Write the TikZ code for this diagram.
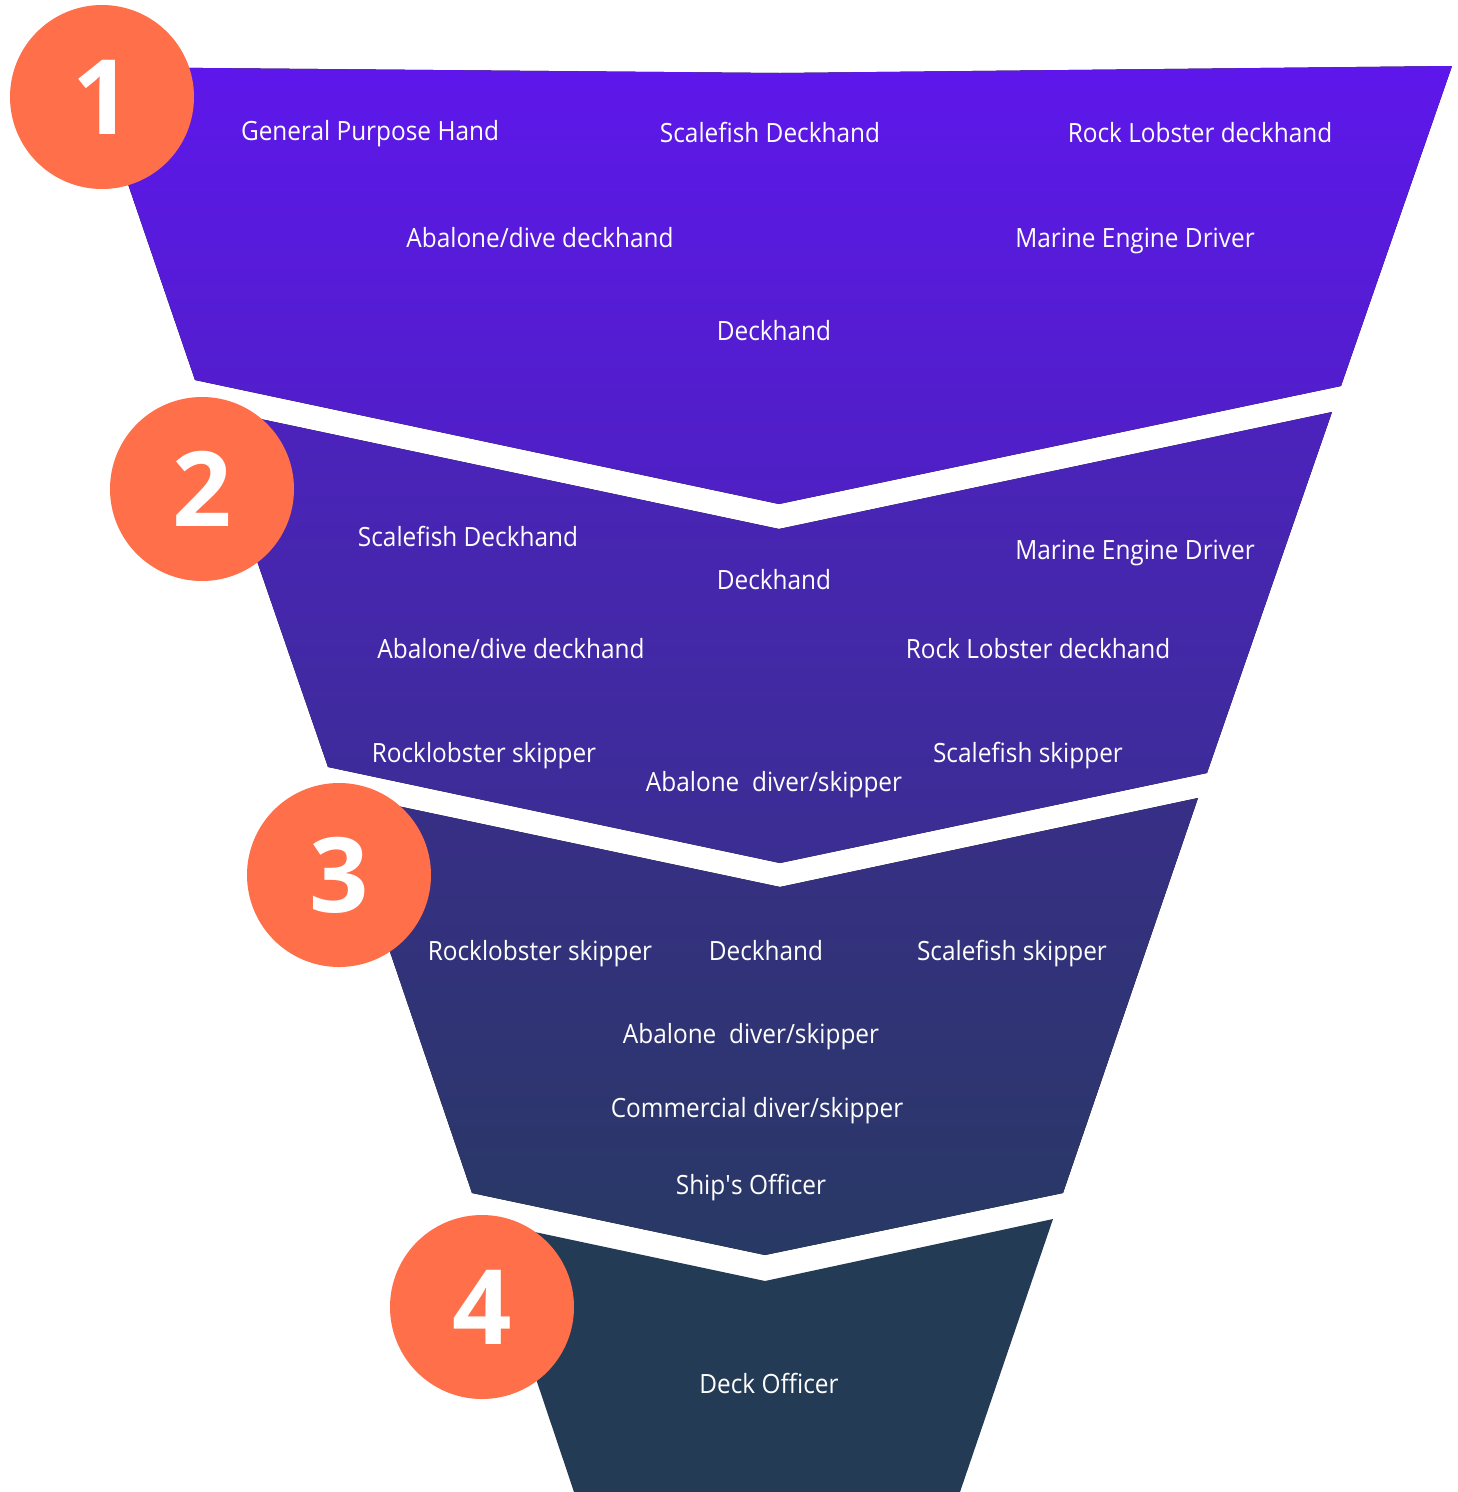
\documentclass[tikz,border=0pt]{standalone}
\usepackage{fontspec}
\setmainfont{Open Sans}
\newfontfamily\stagefont[FakeStretch=0.92]{Open Sans}
\usetikzlibrary{positioning}

\definecolor{badge}{RGB}{255,111,74}
\definecolor{stageAtop}{RGB}{94,23,235}
\definecolor{stageAbot}{RGB}{78,32,195}
\definecolor{stageBtop}{RGB}{76,34,190}
\definecolor{stageBbot}{RGB}{58,46,145}
\definecolor{stageCtop}{RGB}{56,46,135}
\definecolor{stageCbot}{RGB}{40,57,100}
\definecolor{stageD}{RGB}{36,59,85}

\begin{document}
\begin{tikzpicture}[x=1pt,y=-1pt]
% Page frame
\useasboundingbox (0,0) rectangle (1458,1492);

\tikzstyle{lbl} = [text=white, font=\stagefont\fontsize{26.5}{30}\selectfont, anchor=base, inner sep=0pt]
\tikzstyle{num} = [circle, fill=badge, minimum size=184pt, inner sep=0pt, text=white, font=\bfseries\fontsize{104}{110}\selectfont]

% Funnel stages
\fill[top color=stageAtop, bottom color=stageAbot] (88,67) -- (780,73) -- (1452,66) -- (1341,386) -- (779,504) -- (195,380) -- cycle;
\fill[top color=stageBtop, bottom color=stageBbot] (204,407) -- (779,529) -- (1332,412) -- (1207,773) -- (780,863) -- (328,767) -- cycle;
\fill[top color=stageCtop, bottom color=stageCbot] (336,793) -- (780,887) -- (1198,798) -- (1063,1193) -- (765,1255) -- (472,1193) -- cycle;
\fill[stageD] (483,1221) -- (765,1281) -- (1053,1219) -- (960,1492) -- (574,1492) -- cycle;

% Stage 1
\node at (370,140) [lbl] (gph) {General Purpose Hand};
\node at (770,142) [lbl] (sfd1) {Scalefish Deckhand};
\node at (1200,142) [lbl] (rld1) {Rock Lobster deckhand};
\node at (540,247) [lbl] (abd1) {Abalone/dive deckhand};
\node at (1135,247) [lbl] (med1) {Marine Engine Driver};
\node at (774,340) [lbl] (dh1) {Deckhand};

% Stage 2
\node at (468,546) [lbl] (sfd2) {Scalefish Deckhand};
\node at (774,589) [lbl] (dh2) {Deckhand};
\node at (1135,559) [lbl] (med2) {Marine Engine Driver};
\node at (511,658) [lbl] (abd2) {Abalone/dive deckhand};
\node at (1038,658) [lbl] (rld2) {Rock Lobster deckhand};
\node at (484,762) [lbl] (rls2) {Rocklobster skipper};
\node at (774,791) [lbl] (ads2) {Abalone\ \ diver/skipper};
\node at (1028,762) [lbl] (sfs2) {Scalefish skipper};

% Stage 3
\node at (540,960) [lbl] (rls3) {Rocklobster skipper};
\node at (766,960) [lbl] (dh3) {Deckhand};
\node at (1012,960) [lbl] (sfs3) {Scalefish skipper};
\node at (751,1043) [lbl] (ads3) {Abalone\ \ diver/skipper};
\node at (757,1117) [lbl] (cds3) {Commercial diver/skipper};
\node at (751,1194) [lbl] (so3) {Ship\textquotesingle s Officer};

% Stage 4
\node at (769,1393) [lbl] (do4) {Deck Officer};

% Badges
\node at (102,97) [num] (one) {1};
\node at (202,489) [num] (two) {2};
\node at (339,875) [num] (three) {3};
\node at (482,1307) [num] (four) {4};
\end{tikzpicture}
\end{document}
